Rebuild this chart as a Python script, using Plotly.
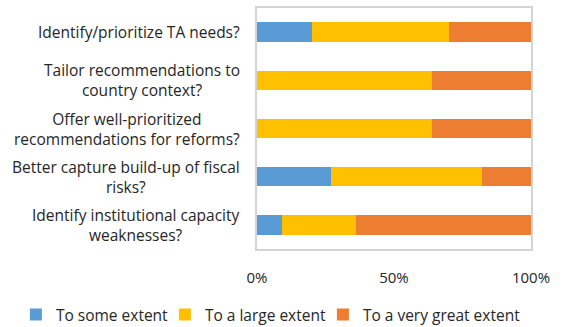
import plotly.graph_objects as go

categories = [
    "Identify/prioritize TA needs?",
    "Tailor recommendations to<br>country context?",
    "Offer well-prioritized<br>recommendations for reforms?",
    "Better capture build-up of fiscal<br>risks?",
    "Identify institutional capacity<br>weaknesses?",
]
some_extent = [20, 0, 0, 27, 9]
large_extent = [50, 64, 64, 55, 27]
very_great_extent = [30, 36, 36, 18, 64]
tick_vals = [0, 50, 100]
tick_text = ["0%", "50%", "100%"]

series = [
    ("To some extent", some_extent, "#5B9BD5", 104),
    ("To a large extent", large_extent, "#FFC000", 113),
    ("To a very great extent", very_great_extent, "#ED7D31", 165),
]

FONT = "Open Sans"
TEXT_COLOR = "#262626"

fig = go.Figure()
for name, vals, color, lw in series:
    fig.add_trace(go.Bar(
        y=categories, x=vals, name=name, orientation="h",
        marker=dict(color=color, line=dict(width=0)),
        legendwidth=lw,
        hoverinfo="x+y+name",
    ))

# Category labels: right-aligned block, centered lines
for cat in categories:
    fig.add_annotation(
        x=0, xref="paper", y=cat, yref="y",
        text=cat, showarrow=False, xanchor="right", yanchor="middle",
        align="center", xshift=-15,
        font=dict(family=FONT, size=15.5, color=TEXT_COLOR),
    )

fig.update_layout(
    barmode="stack",
    bargap=0.6,
    width=565, height=327,
    margin=dict(l=257, r=34, t=8, b=78, autoexpand=False),
    paper_bgcolor="white", plot_bgcolor="white",
    font=dict(family=FONT, size=15, color=TEXT_COLOR),
    showlegend=True,
    legend=dict(
        orientation="h", xref="paper", yref="paper",
        x=-0.88, y=-0.203, xanchor="left", yanchor="top",
        bgcolor="rgba(0,0,0,0)",
        font=dict(family=FONT, size=15.5, color=TEXT_COLOR),
        itemwidth=30, traceorder="normal",
    ),
    xaxis=dict(
        range=[0, 100], tickvals=tick_vals, ticktext=tick_text,
        showgrid=False, zeroline=False, ticks="",
        showline=True, mirror=True, linecolor="#d4d4d4", linewidth=2,
        ticklabelstandoff=14,
        tickfont=dict(family=FONT, size=15, color=TEXT_COLOR),
        fixedrange=True,
    ),
    yaxis=dict(
        categoryorder="array", categoryarray=categories,
        autorange="reversed", showticklabels=False, ticks="",
        showgrid=False, zeroline=False,
        showline=True, mirror=True, linecolor="#d4d4d4", linewidth=2,
        fixedrange=True,
    ),
)

fig.write_html("out.html")
